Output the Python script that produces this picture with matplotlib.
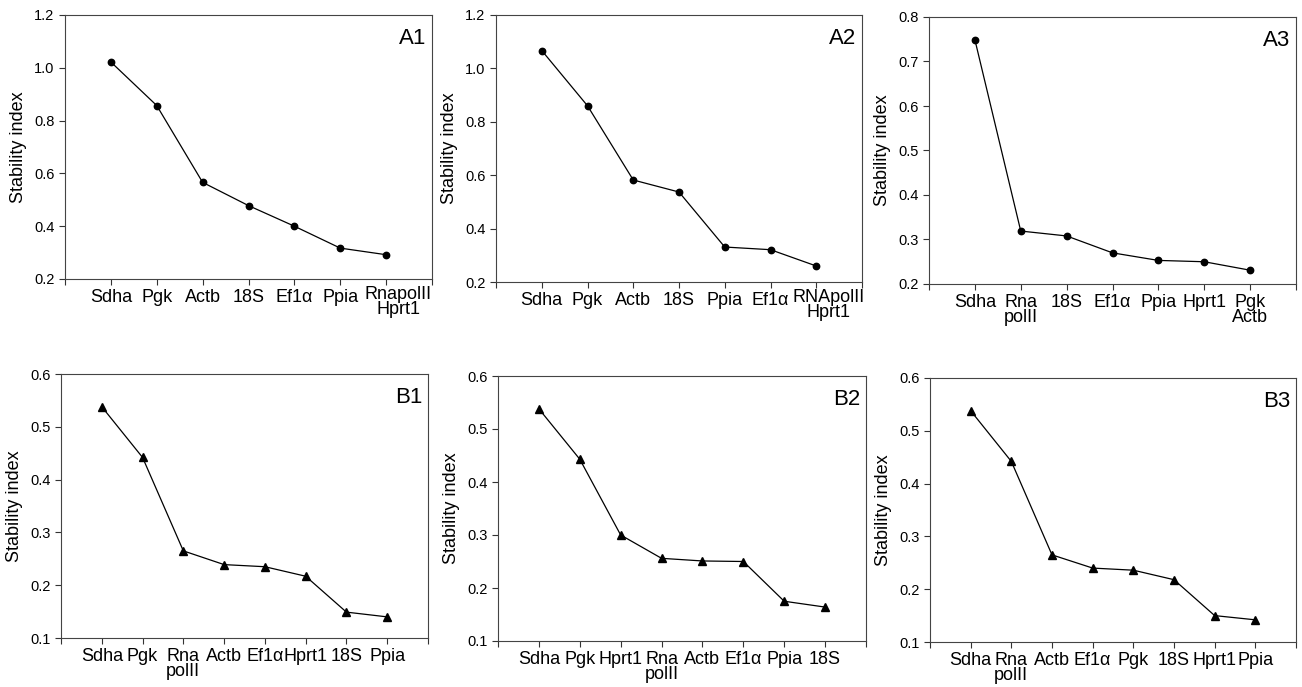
import numpy as np
import matplotlib
matplotlib.use('Agg')
import matplotlib.pyplot as plt
import matplotlib.transforms as mtransforms

plt.rcParams['font.family'] = ['Liberation Sans', 'DejaVu Sans']

# panel data: gene order (ranked) and stability index
a1_genes = ['Sdha', 'Pgk', 'Actb', '18S', 'Ef1α', 'Ppia', 'RnapolII\nHprt1']
a1_vals = [1.022, 0.857, 0.566, 0.478, 0.400, 0.317, 0.292]

a2_genes = ['Sdha', 'Pgk', 'Actb', '18S', 'Ppia', 'Ef1α', 'RNApolII\nHprt1']
a2_vals = [1.067, 0.860, 0.582, 0.537, 0.331, 0.321, 0.260]

a3_genes = ['Sdha', 'Rna\npolII', '18S', 'Ef1α', 'Ppia', 'Hprt1', 'Pgk\nActb']
a3_vals = [0.749, 0.319, 0.308, 0.270, 0.253, 0.250, 0.231]

b1_genes = ['Sdha', 'Pgk', 'Rna\npolII', 'Actb', 'Ef1α', 'Hprt1', '18S', 'Ppia']
b1_vals = [0.538, 0.442, 0.265, 0.239, 0.235, 0.217, 0.149, 0.140]

b2_genes = ['Sdha', 'Pgk', 'Hprt1', 'Rna\npolII', 'Actb', 'Ef1α', 'Ppia', '18S']
b2_vals = [0.538, 0.443, 0.300, 0.256, 0.251, 0.250, 0.175, 0.164]

b3_genes = ['Sdha', 'Rna\npolII', 'Actb', 'Ef1α', 'Pgk', '18S', 'Hprt1', 'Ppia']
b3_vals = [0.538, 0.442, 0.265, 0.240, 0.236, 0.218, 0.150, 0.142]

W, H = 1302, 687
fig = plt.figure(figsize=(W / 100, H / 100), dpi=100)


def box(l, r, t, b):
    return [l / W, 1 - b / H, (r - l) / W, (b - t) / H]


panels = [
    ('A1', a1_genes, a1_vals, (0.2, 1.2), [0.2, 0.4, 0.6, 0.8, 1.0, 1.2], 'o', box(65, 432, 15, 279)),
    ('A2', a2_genes, a2_vals, (0.2, 1.2), [0.2, 0.4, 0.6, 0.8, 1.0, 1.2], 'o', box(496, 862, 15, 282)),
    ('A3', a3_genes, a3_vals, (0.2, 0.8), [0.2, 0.3, 0.4, 0.5, 0.6, 0.7, 0.8], 'o', box(929, 1296, 17, 284)),
    ('B1', b1_genes, b1_vals, (0.1, 0.6), [0.1, 0.2, 0.3, 0.4, 0.5, 0.6], '^', box(61, 428, 374, 638)),
    ('B2', b2_genes, b2_vals, (0.1, 0.6), [0.1, 0.2, 0.3, 0.4, 0.5, 0.6], '^', box(498, 866, 376, 641)),
    ('B3', b3_genes, b3_vals, (0.1, 0.6), [0.1, 0.2, 0.3, 0.4, 0.5, 0.6], '^', box(930, 1296, 378, 642)),
]

XFS = 13

for name, genes, vals, ylim, yticks, mk, rect in panels:
    ax = fig.add_axes(rect)
    n = len(genes)
    x = np.arange(1, n + 1)
    ms = 4.6 if mk == 'o' else 5.5
    ax.plot(x, vals, color='black', lw=0.9, marker=mk, ms=ms)
    ax.set_xlim(0, n + 1)
    ax.set_ylim(*ylim)
    ax.set_xticks(np.arange(0, n + 2))
    ticklabels = [''] + genes + ['']
    if name in ('A1', 'A2'):
        # the shared last label sits a little right of its tick
        ticklabels[n] = ''
        off = mtransforms.ScaledTranslation(12 / 100, -7 / 100, fig.dpi_scale_trans)
        tr = mtransforms.blended_transform_factory(ax.transData, ax.transAxes) + off
        ax.text(n, 0, genes[-1], transform=tr, ha='center', va='top',
                fontsize=XFS, linespacing=0.85)
    ax.set_xticklabels(ticklabels, fontsize=XFS, linespacing=0.85)
    ax.set_yticks(yticks)
    ax.set_yticklabels([f'{v:.1f}' for v in yticks], fontsize=10.5)
    ax.tick_params(direction='out', length=4, width=0.8, color='#333333')
    ax.tick_params(axis='x', pad=3)
    ax.set_ylabel('Stability index', fontsize=13, labelpad=5)
    for s in ax.spines.values():
        s.set_linewidth(0.8)
        s.set_color('#444444')
    ax.text(0.985, 0.95, name, transform=ax.transAxes, ha='right', va='top', fontsize=16)

fig.savefig('out.png', dpi=100)
